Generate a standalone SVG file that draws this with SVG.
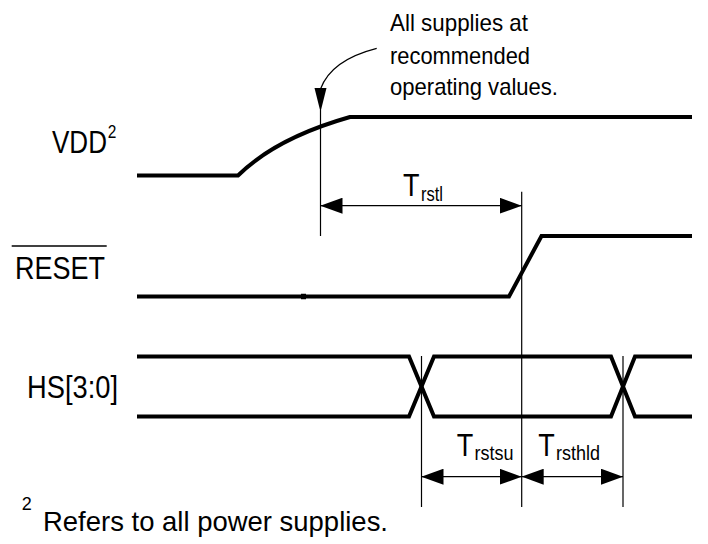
<svg xmlns="http://www.w3.org/2000/svg" width="708" height="544" viewBox="0 0 708 544">
<style>
text{font-family:"Liberation Sans",Arial,Helvetica,sans-serif;fill:#000}
.wave{fill:none;stroke:#000;stroke-width:4;stroke-linejoin:miter;stroke-linecap:butt}
.thin{fill:none;stroke:#000;stroke-width:1.2}
.dim{fill:none;stroke:#000;stroke-width:1.2}
.lbl{font-size:31px}
.note{font-size:24px}
.tm{font-size:32px}
.sub{font-size:21px}
</style>
<defs>
<marker id="ah" markerWidth="22" markerHeight="16" refX="22" refY="8" orient="auto-start-reverse" markerUnits="userSpaceOnUse">
<path d="M0,0 L22,8 L0,16 Z" fill="#000"/>
</marker>
</defs>
<rect width="708" height="544" fill="#fff"/>

<g id="annotation">
<text class="note" x="390" y="31" textLength="138" lengthAdjust="spacingAndGlyphs">All supplies at</text>
<text class="note" x="390" y="63.5" textLength="140" lengthAdjust="spacingAndGlyphs">recommended</text>
<text class="note" x="390" y="95" textLength="168" lengthAdjust="spacingAndGlyphs">operating values.</text>
</g>

<g id="vdd">
<text transform="translate(52,153) scale(0.814,1)" style="font-size:32px">VDD<tspan dx="1" dy="-15" style="font-size:19px">2</tspan></text>
<path class="wave" d="M137,175.5 L238,175.5 Q276,138 350,117 L692,117"/>
</g>

<g id="reset">
<line x1="11.7" y1="246" x2="106.7" y2="246" stroke="#000" stroke-width="1.6"/>
<text class="lbl" x="15" y="278.5" textLength="90" lengthAdjust="spacingAndGlyphs">RESET</text>
<path class="wave" d="M137,296.5 L509,296.5 L541.5,236 L692,236"/>
<line x1="301" y1="296.5" x2="306" y2="296.5" stroke="#000" stroke-width="5.5"/>
</g>

<g id="hs">
<text class="lbl" x="27" y="398" textLength="91" lengthAdjust="spacingAndGlyphs">HS[3:0]</text>
<path class="wave" d="M137,356.5 L409,356.5 L434,416.5 L611,416.5 L635,356.5 L692,356.5"/>
<path class="wave" d="M137,416.5 L409,416.5 L434,356.5 L611,356.5 L635,416.5 L692,416.5"/>
</g>

<g id="connectors">
<path class="thin" d="M376.7,48.3 Q331,60 320.5,89"/>
<path d="M314.5,88 L326.5,88 L320.5,112 Z" fill="#000"/>
<line class="thin" x1="320.5" y1="110" x2="320.5" y2="236"/>
<line class="thin" x1="521.7" y1="191.7" x2="521.7" y2="507"/>
<line class="thin" x1="421.5" y1="356" x2="421.5" y2="507"/>
<line class="thin" x1="623" y1="356" x2="623" y2="507"/>
<line class="dim" x1="320.5" y1="205.7" x2="521.7" y2="205.7" marker-start="url(#ah)" marker-end="url(#ah)"/>
<line class="dim" x1="421.5" y1="476.7" x2="521.7" y2="476.7" marker-start="url(#ah)" marker-end="url(#ah)"/>
<line class="dim" x1="521.7" y1="476.7" x2="623" y2="476.7" marker-start="url(#ah)" marker-end="url(#ah)"/>
</g>

<g id="timing-labels">
<text class="tm" x="403" y="196" textLength="16.5" lengthAdjust="spacingAndGlyphs">T</text>
<text class="sub" x="421" y="200.7" textLength="22" lengthAdjust="spacingAndGlyphs">rstl</text>
<text class="tm" x="456.7" y="456" textLength="16.5" lengthAdjust="spacingAndGlyphs">T</text>
<text class="sub" x="474.5" y="459.5" textLength="39" lengthAdjust="spacingAndGlyphs">rstsu</text>
<text class="tm" x="538.3" y="456" textLength="16.5" lengthAdjust="spacingAndGlyphs">T</text>
<text class="sub" x="556" y="459.5" textLength="44" lengthAdjust="spacingAndGlyphs">rsthld</text>
</g>

<g id="footnote">
<text x="21.7" y="510" style="font-size:18px">2</text>
<text x="43" y="531" style="font-size:28px" textLength="345" lengthAdjust="spacingAndGlyphs">Refers to all power supplies.</text>
</g>
</svg>
